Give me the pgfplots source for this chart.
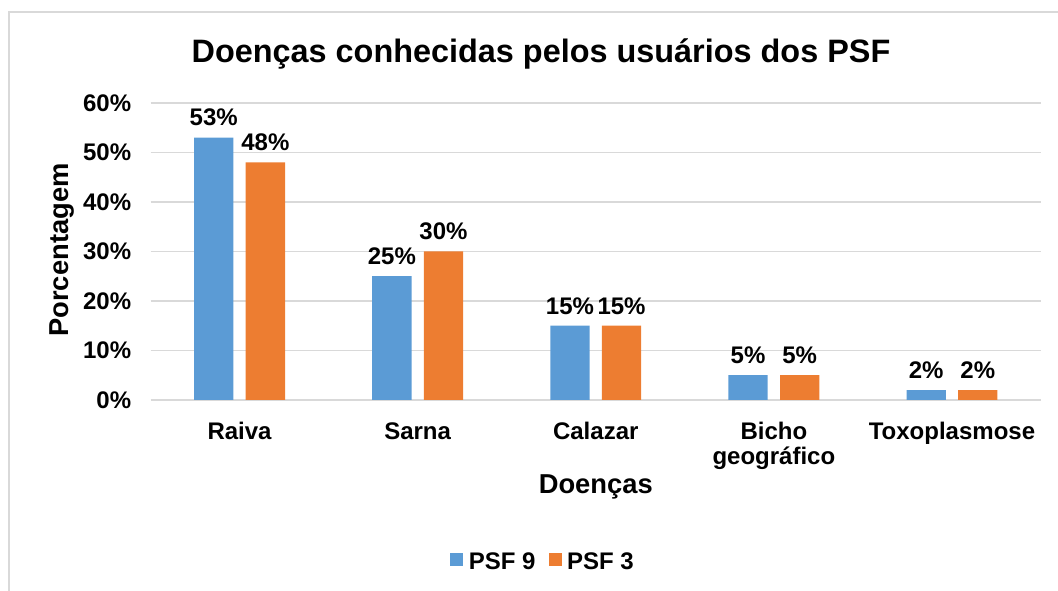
\documentclass[border=0pt]{standalone}
\usepackage{pgfplots}
\pgfplotsset{compat=1.18}
\usepackage{fontspec}
\setmainfont{Liberation Sans}

\definecolor{psfblue}{HTML}{5B9BD5}
\definecolor{psforange}{HTML}{ED7D31}
\definecolor{gridgray}{HTML}{D9D9D9}

\pgfplotsset{
    sqlegend/.style={legend image code/.code={\fill[##1] (0pt,-3.4pt) rectangle (9.75pt,6.35pt);}}
}

\begin{document}
\begin{tikzpicture}
    \useasboundingbox (0,0) rectangle (793.5pt,443.25pt);
    \draw[gridgray, line width=1.1pt] (6.75pt,0) -- (6.75pt,434.25pt) -- (793.5pt,434.25pt);
    \begin{axis}[
        at={(112.875pt,143.25pt)}, anchor=south west,
        scale only axis,
        width  = 667.9pt,
        height = 222.75pt,
        ybar=9.2pt,
        bar width=29.5pt,
        xmin=-0.5, xmax=4.5,
        ymin=0, ymax=60,
        xtick=data,
        xticklabels={\strut Raiva,\strut Sarna,\strut Calazar,\strut Bicho\\geográfico,\strut Toxoplasmose},
        ytick={0,10,...,60},
        yticklabel={\pgfmathprintnumber{\tick}\%},
        /pgf/number format/assume math mode=true,
        tick style={draw=none},
        axis line style={draw=none},
        ymajorgrids=true,
        grid style={gridgray, line width=0.8pt},
        tick label style={font=\fontsize{18}{19}\selectfont\bfseries},
        xticklabel style={align=center, anchor=north, yshift=-8.5pt},
        yticklabel style={xshift=-11pt},
        nodes near coords={\pgfmathprintnumber{\pgfplotspointmeta}\%},
        every node near coord/.append style={font=\fontsize{18}{19}\selectfont\bfseries, text=black, yshift=5pt},
        title={Doenças conhecidas pelos usuários dos PSF},
        title style={font=\fontsize{24.3}{28}\selectfont\bfseries, at={(axis description cs:0.4385,1.11)}, anchor=base},
        xlabel={Doenças},
        xlabel style={font=\fontsize{20.5}{24}\selectfont\bfseries, at={(axis description cs:0.5,-0.3165)}, anchor=base},
        ylabel={Porcentagem},
        ylabel style={font=\fontsize{20.5}{24}\selectfont\bfseries, at={(axis description cs:-0.0926,0.505)}, anchor=base, rotate=0},
        legend columns=2,
        legend style={
            at={(axis description cs:0.4413,-0.545)},
            anchor=center,
            draw=none,
            font=\fontsize{18}{19}\selectfont\bfseries,
            /tikz/every odd column/.append style={column sep=2pt},
            /tikz/every even column/.append style={column sep=8pt}
        }
    ]
        \addplot[fill=psfblue, draw=none, sqlegend]
            coordinates {(0,53) (1,25) (2,15) (3,5) (4,2)};
        \addplot[fill=psforange, draw=none, sqlegend]
            coordinates {(0,48) (1,30) (2,15) (3,5) (4,2)};
        \legend{PSF 9,PSF 3}
    \end{axis}
\end{tikzpicture}
\end{document}
